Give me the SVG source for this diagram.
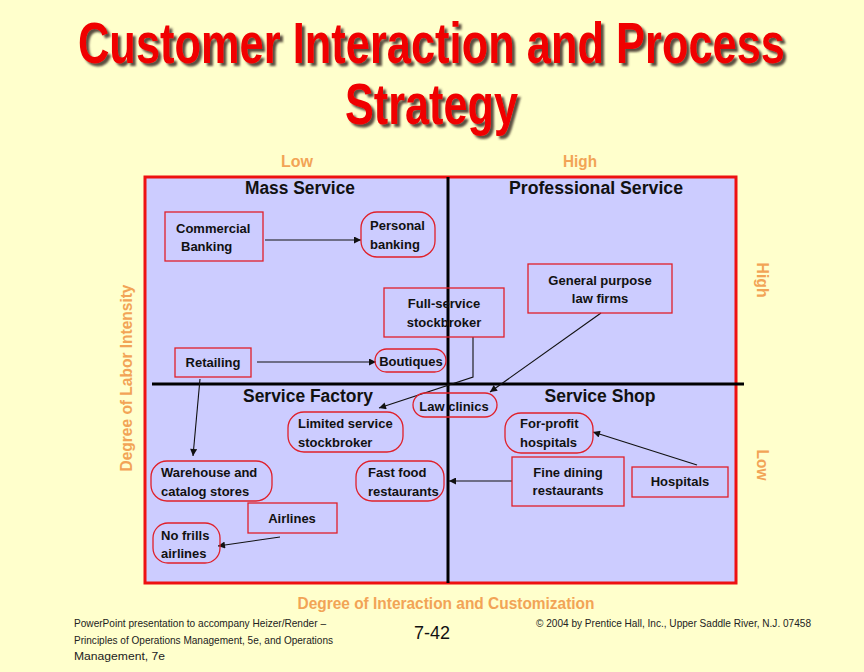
<svg xmlns="http://www.w3.org/2000/svg" width="864" height="672" viewBox="0 0 864 672">
<defs>
<style>
.t{font-family:"Liberation Sans",Arial,sans-serif;font-weight:bold;font-size:13px;fill:#111}
.q{font-family:"Liberation Sans",Arial,sans-serif;font-weight:bold;font-size:18px;fill:#111}
.ax{font-family:"Liberation Sans",Arial,sans-serif;font-weight:bold;font-size:16px;fill:#F2A456}
.ft{font-family:"Liberation Sans",Arial,sans-serif;font-size:11px;fill:#222}
.box{fill:none;stroke:#E0202A;stroke-width:1.3}
.con{fill:none;stroke:#111;stroke-width:1.1}
.title{font-family:"Liberation Sans",Arial,sans-serif;font-weight:bold;font-size:43px;fill:#F00000}
</style>
<marker id="ah" viewBox="0 0 10 10" refX="10" refY="5" markerWidth="9" markerHeight="7" markerUnits="userSpaceOnUse" orient="auto">
<path d="M0,0 L10,5 L0,10 z" fill="#111"/>
</marker>
<filter id="sh" filterUnits="userSpaceOnUse" x="0" y="0" width="864" height="160">
<feDropShadow dx="3" dy="3" stdDeviation="0.8" flood-color="#4a3a30" flood-opacity="0.9"/>
</filter>
</defs>
<rect width="864" height="672" fill="#FFFFCC"/>
<g id="title" filter="url(#sh)">
<text class="title" transform="translate(431.5,63) scale(1,1.33)" x="0" y="0" text-anchor="middle" textLength="707" lengthAdjust="spacingAndGlyphs">Customer Interaction and Process</text>
<text class="title" transform="translate(431.5,124) scale(1,1.33)" x="0" y="0" text-anchor="middle" textLength="173" lengthAdjust="spacingAndGlyphs">Strategy</text>
</g>
<g id="matrix">
<rect x="145" y="177" width="591" height="406" fill="#CCCCFF" stroke="#EE1111" stroke-width="3"/>
<line x1="448" y1="177" x2="448" y2="583" stroke="#000" stroke-width="3"/>
<line x1="152" y1="384" x2="744" y2="384" stroke="#000" stroke-width="3"/>
<text class="q" x="300" y="194" text-anchor="middle" textLength="110" lengthAdjust="spacingAndGlyphs">Mass Service</text>
<text class="q" x="596" y="194" text-anchor="middle" textLength="174" lengthAdjust="spacingAndGlyphs">Professional Service</text>
<text class="q" x="308" y="402" text-anchor="middle" textLength="130" lengthAdjust="spacingAndGlyphs">Service Factory</text>
<text class="q" x="600" y="402" text-anchor="middle" textLength="111" lengthAdjust="spacingAndGlyphs">Service Shop</text>
</g>
<g id="axes">
<text class="ax" x="297" y="167" text-anchor="middle" textLength="32" lengthAdjust="spacingAndGlyphs">Low</text>
<text class="ax" x="580" y="167" text-anchor="middle" textLength="34" lengthAdjust="spacingAndGlyphs">High</text>
<text class="ax" transform="translate(132,378) rotate(-90)" text-anchor="middle" textLength="187" lengthAdjust="spacingAndGlyphs">Degree of Labor Intensity</text>
<text class="ax" transform="translate(757,280) rotate(90)" text-anchor="middle" textLength="35" lengthAdjust="spacingAndGlyphs">High</text>
<text class="ax" transform="translate(757,465) rotate(90)" text-anchor="middle" textLength="31" lengthAdjust="spacingAndGlyphs">Low</text>
<text class="ax" x="446" y="609" text-anchor="middle" textLength="297" lengthAdjust="spacingAndGlyphs">Degree of Interaction and Customization</text>
</g>
<g id="connectors">
<line class="con" x1="265" y1="240" x2="361" y2="240" marker-end="url(#ah)"/>
<line class="con" x1="257" y1="362" x2="376" y2="362" marker-end="url(#ah)"/>
<line class="con" x1="200" y1="379" x2="193" y2="456" marker-end="url(#ah)"/>
<polyline class="con" points="473,337 473,377 379,408" marker-end="url(#ah)"/>
<line class="con" x1="601" y1="313" x2="490" y2="392" marker-end="url(#ah)"/>
<line class="con" x1="697" y1="465" x2="593" y2="432" marker-end="url(#ah)"/>
<line class="con" x1="512" y1="481" x2="449" y2="481" marker-end="url(#ah)"/>
<line class="con" x1="280" y1="537" x2="218" y2="546" marker-end="url(#ah)"/>
</g>
<g id="commercial-banking">
<rect class="box" x="165" y="212" width="98" height="49"/>
<text class="t" x="176" y="233">Commercial</text>
<text class="t" x="181" y="251">Banking</text>
</g>
<g id="personal-banking">
<rect class="box" x="361" y="212" width="74" height="45" rx="16"/>
<text class="t" x="370" y="230">Personal</text>
<text class="t" x="370" y="249">banking</text>
</g>
<g id="full-service-stockbroker">
<rect class="box" x="384" y="288" width="120" height="49"/>
<text class="t" x="444" y="308" text-anchor="middle">Full-service</text>
<text class="t" x="444" y="327" text-anchor="middle">stockbroker</text>
</g>
<g id="general-purpose-law-firms">
<rect class="box" x="528" y="264" width="144" height="49"/>
<text class="t" x="600" y="285" text-anchor="middle">General  purpose</text>
<text class="t" x="600" y="303" text-anchor="middle">law firms</text>
</g>
<g id="retailing">
<rect class="box" x="175" y="348" width="76" height="29"/>
<text class="t" x="213" y="367" text-anchor="middle">Retailing</text>
</g>
<g id="boutiques">
<rect class="box" x="375" y="349" width="71" height="23" rx="11.5"/>
<text class="t" x="411" y="366" text-anchor="middle">Boutiques</text>
</g>
<g id="law-clinics">
<rect class="box" x="413" y="393" width="84" height="24" rx="12"/>
<text class="t" x="454" y="411" text-anchor="middle">Law clinics</text>
</g>
<g id="limited-service-stockbroker">
<rect class="box" x="288" y="412" width="115" height="40" rx="16"/>
<text class="t" x="298" y="428">Limited service</text>
<text class="t" x="298" y="447">stockbroker</text>
</g>
<g id="for-profit-hospitals">
<rect class="box" x="505" y="413" width="88" height="40" rx="16"/>
<text class="t" x="520" y="428">For-profit</text>
<text class="t" x="520" y="447">hospitals</text>
</g>
<g id="warehouse-catalog-stores">
<rect class="box" x="151" y="461" width="121" height="40" rx="16"/>
<text class="t" x="161" y="477">Warehouse  and</text>
<text class="t" x="161" y="496">catalog  stores</text>
</g>
<g id="fast-food-restaurants">
<rect class="box" x="356" y="461" width="88" height="40" rx="16"/>
<text class="t" x="368" y="477">Fast food</text>
<text class="t" x="368" y="496">restaurants</text>
</g>
<g id="fine-dining-restaurants">
<rect class="box" x="512" y="457" width="112" height="49"/>
<text class="t" x="568" y="477" text-anchor="middle">Fine dining</text>
<text class="t" x="568" y="495" text-anchor="middle">restaurants</text>
</g>
<g id="hospitals">
<rect class="box" x="632" y="467" width="96" height="30"/>
<text class="t" x="680" y="486" text-anchor="middle">Hospitals</text>
</g>
<g id="airlines">
<rect class="box" x="248" y="503" width="89" height="30"/>
<text class="t" x="292" y="523" text-anchor="middle">Airlines</text>
</g>
<g id="no-frills-airlines">
<rect class="box" x="153" y="523" width="67" height="40" rx="15"/>
<text class="t" x="161" y="540">No frills</text>
<text class="t" x="161" y="558">airlines</text>
</g>
<g id="footer">
<text class="ft" x="74" y="627" textLength="252" lengthAdjust="spacingAndGlyphs">PowerPoint presentation to accompany Heizer/Render –</text>
<text class="ft" x="74" y="644" textLength="259" lengthAdjust="spacingAndGlyphs">Principles of Operations Management, 5e, and Operations</text>
<text class="ft" x="74" y="660" textLength="91" lengthAdjust="spacingAndGlyphs">Management, 7e</text>
<text x="432" y="639" text-anchor="middle" font-family="Liberation Sans, Arial, sans-serif" font-size="19" fill="#111" textLength="36" lengthAdjust="spacingAndGlyphs">7-42</text>
<text class="ft" x="536" y="627" textLength="275" lengthAdjust="spacingAndGlyphs">© 2004 by Prentice Hall, Inc.,  Upper Saddle River, N.J. 07458</text>
</g>
</svg>
